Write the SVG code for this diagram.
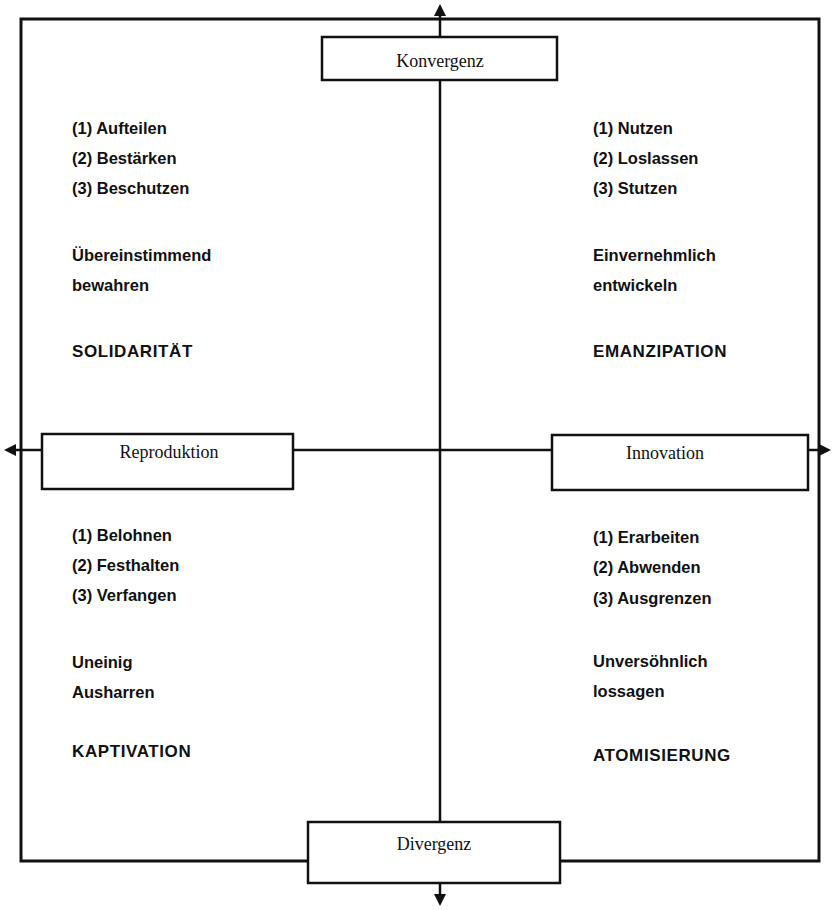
<svg xmlns="http://www.w3.org/2000/svg" width="833" height="910" viewBox="0 0 833 910">
  <style>
    .frame { fill: none; stroke: #111; stroke-width: 3; }
    .box { fill: #fff; stroke: #111; stroke-width: 2.5; }
    .axis { stroke: #111; stroke-width: 2.5; fill: none; }
    .head { fill: #111; }
    .lbl { font-family: "Liberation Serif", "Times New Roman", serif; font-size: 18px; fill: #111; text-anchor: middle; }
    .txt { font-family: "Liberation Sans", Arial, sans-serif; font-size: 16.5px; font-weight: bold; fill: #111; }
    .caps { font-size: 17px; letter-spacing: 0.6px; }
  </style>

  <!-- outer frame -->
  <rect class="frame" x="21" y="19" width="798" height="842"/>

  <!-- axes with arrowheads -->
  <g id="connectors">
    <line class="axis" x1="440" y1="14" x2="440" y2="37"/>
    <line class="axis" x1="440" y1="80" x2="440" y2="822"/>
    <line class="axis" x1="440" y1="883" x2="440" y2="896"/>
    <line class="axis" x1="14" y1="450" x2="42" y2="450"/>
    <line class="axis" x1="293" y1="450" x2="552" y2="450"/>
    <line class="axis" x1="808" y1="450" x2="822" y2="450"/>
    <polygon class="head" points="440,4 434,16 446,16"/>
    <polygon class="head" points="440,906 434,894 446,894"/>
    <polygon class="head" points="4,450 16,444 16,456"/>
    <polygon class="head" points="831,450 819,444 819,456"/>
  </g>

  <!-- axis nodes -->
  <g id="konvergenz">
    <rect class="box" x="322" y="37" width="235" height="43"/>
    <text class="lbl" x="440" y="67">Konvergenz</text>
  </g>
  <g id="reproduktion">
    <rect class="box" x="42" y="434" width="251" height="55"/>
    <text class="lbl" x="169" y="458">Reproduktion</text>
  </g>
  <g id="innovation">
    <rect class="box" x="552" y="435" width="256" height="55"/>
    <text class="lbl" x="665" y="459">Innovation</text>
  </g>
  <g id="divergenz">
    <rect class="box" x="308" y="822" width="252" height="61"/>
    <text class="lbl" x="434" y="850">Divergenz</text>
  </g>

  <!-- quadrant texts -->
  <g id="solidaritaet" class="txt">
    <text x="72" y="134">(1) Aufteilen</text>
    <text x="72" y="164">(2) Bestärken</text>
    <text x="72" y="194">(3) Beschutzen</text>
    <text x="72" y="261">Übereinstimmend</text>
    <text x="72" y="291">bewahren</text>
    <text class="caps" x="72" y="357">SOLIDARITÄT</text>
  </g>
  <g id="emanzipation" class="txt">
    <text x="593" y="134">(1) Nutzen</text>
    <text x="593" y="164">(2) Loslassen</text>
    <text x="593" y="194">(3) Stutzen</text>
    <text x="593" y="261">Einvernehmlich</text>
    <text x="593" y="291">entwickeln</text>
    <text class="caps" x="593" y="357">EMANZIPATION</text>
  </g>
  <g id="kaptivation" class="txt">
    <text x="72" y="541">(1) Belohnen</text>
    <text x="72" y="571">(2) Festhalten</text>
    <text x="72" y="601">(3) Verfangen</text>
    <text x="72" y="668">Uneinig</text>
    <text x="72" y="698">Ausharren</text>
    <text class="caps" x="72" y="757">KAPTIVATION</text>
  </g>
  <g id="atomisierung" class="txt">
    <text x="593" y="543">(1) Erarbeiten</text>
    <text x="593" y="573">(2) Abwenden</text>
    <text x="593" y="604">(3) Ausgrenzen</text>
    <text x="593" y="667">Unversöhnlich</text>
    <text x="593" y="697">lossagen</text>
    <text class="caps" x="593" y="761">ATOMISIERUNG</text>
  </g>
</svg>
